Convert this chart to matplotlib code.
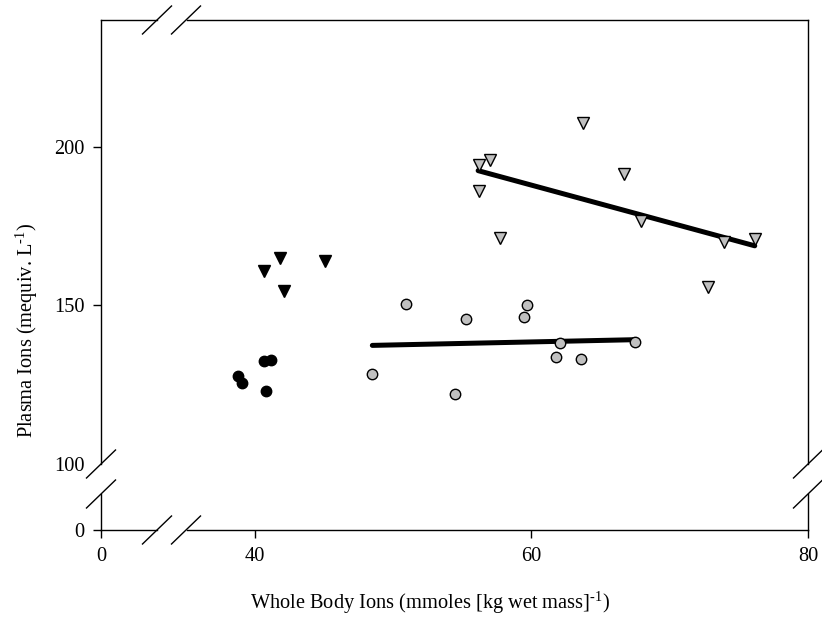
import numpy as np
import matplotlib
matplotlib.use("Agg")
import matplotlib.pyplot as plt
from matplotlib.lines import Line2D

plt.rcParams['font.family'] = ['Liberation Serif', 'DejaVu Serif']
plt.rcParams['mathtext.fontset'] = 'custom'
plt.rcParams['mathtext.rm'] = 'Liberation Serif'

# black circles
fw_circ_x = [38.8, 39.05, 40.7, 41.2, 40.8]
fw_circ_y = [127.8, 125.5, 132.6, 132.7, 122.9]
# black triangles
fw_tri_x = [41.85, 40.7, 42.1, 45.05]
fw_tri_y = [165.0, 160.7, 154.4, 163.9]
# grey circles
sw_circ_x = [48.5, 50.95, 54.5, 55.3, 59.5, 59.7, 61.8, 62.1, 63.6, 67.5]
sw_circ_y = [128.4, 150.4, 122.0, 145.8, 146.3, 150.2, 133.7, 138.1, 133.2, 138.6]
# grey triangles
sw_tri_x = [56.2, 56.2, 57.0, 57.7, 63.7, 66.7, 67.95, 72.75, 73.9, 76.15]
sw_tri_y = [194.4, 186.2, 196.0, 171.3, 207.6, 191.3, 176.5, 155.9, 169.9, 171.0]
# regression lines (endpoints)
fit_circ_x = [48.5, 67.5]
fit_circ_y = [137.4, 139.2]
fit_tri_x = [56.15, 76.15]
fit_tri_y = [192.5, 168.8]

W, H = 822, 624
FS = 14.7
fig = plt.figure(figsize=(W / 100, H / 100), dpi=100)


def box(x0, x1, y0, y1):
    return [x0 / W, (H - y1) / H, (x1 - x0) / W, (y1 - y0) / H]


ax_tl = fig.add_axes(box(101, 157, 20, 464))
ax_tr = fig.add_axes(box(187, 808, 20, 464))
ax_bl = fig.add_axes(box(101, 157, 494, 530))
ax_br = fig.add_axes(box(187, 808, 494, 530))

for ax in (ax_tl, ax_bl):
    ax.set_xlim(0, 4.05)
for ax in (ax_tr, ax_br):
    ax.set_xlim(35.1, 80)
for ax in (ax_tl, ax_tr):
    ax.set_ylim(100, 240)
for ax in (ax_bl, ax_br):
    ax.set_ylim(0, 11.4)

for ax in (ax_tl, ax_tr, ax_bl, ax_br):
    ax.patch.set_visible(False)
    for s in ax.spines.values():
        s.set_linewidth(1.0)
        s.set_visible(False)
    ax.tick_params(direction='out', length=6, width=1, labelsize=FS, pad=6)
    ax.set_xticks([])
    ax.set_yticks([])

ax_tl.spines['left'].set_visible(True)
ax_tl.spines['top'].set_visible(True)
ax_tr.spines['top'].set_visible(True)
ax_tr.spines['right'].set_visible(True)
ax_bl.spines['left'].set_visible(True)
ax_bl.spines['bottom'].set_visible(True)
ax_br.spines['bottom'].set_visible(True)
ax_br.spines['right'].set_visible(True)

ax_tl.set_yticks([100, 150, 200])
ax_tl.yaxis.get_major_ticks()[0].tick1line.set_visible(False)
ax_bl.set_yticks([0])
ax_bl.set_xticks([0])
ax_br.set_xticks([40, 60, 80])

ax = ax_tr
ax.plot(fit_circ_x, fit_circ_y, color='black', lw=3.6, solid_capstyle='round', zorder=2)
ax.plot(fit_tri_x, fit_tri_y, color='black', lw=3.6, solid_capstyle='round', zorder=2)
ax.plot(fw_circ_x, fw_circ_y, 'o', ms=7.5, mfc='black', mec='black', mew=1, zorder=3)
ax.plot(fw_tri_x, fw_tri_y, 'v', ms=8.5, mfc='black', mec='black', mew=1, zorder=3)
ax.plot(sw_circ_x, sw_circ_y, 'o', ms=7.5, mfc='#c0c0c0', mec='black', mew=1, zorder=3)
ax.plot(sw_tri_x, sw_tri_y, 'v', ms=8.5, mfc='#c0c0c0', mec='black', mew=1, zorder=3)


# axis break marks
def slash(cx, cy):
    xs = [(cx - 14.5) / W, (cx + 14.5) / W]
    ys = [(H - cy - 14) / H, (H - cy + 14) / H]
    fig.add_artist(Line2D(xs, ys, color='black', lw=1.0, transform=fig.transFigure))


for cx, cy in [(157, 530), (186, 530), (157, 20), (186, 20),
               (101, 464), (101, 494), (808, 464), (808, 494)]:
    slash(cx, cy)

fig.text(430 / W, 1 - 603 / H, r'Whole Body Ions (mmoles [kg wet mass]$^{\text{-1}}$)',
         ha='center', va='center', fontsize=FS)
fig.text(27 / W, 1 - 330 / H, r'Plasma Ions (mequiv. L$^{\text{-1}}$)',
         ha='center', va='center', fontsize=FS, rotation=90)

fig.savefig('out.png', dpi=100)
